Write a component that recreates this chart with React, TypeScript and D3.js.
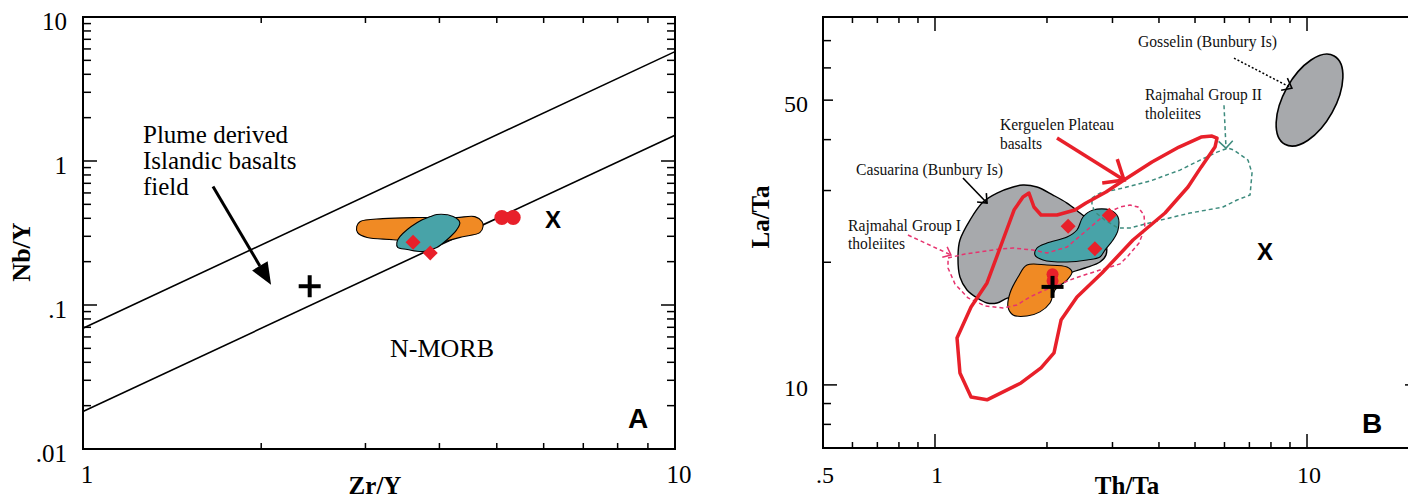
import React from "react";
import * as d3 from "d3";

// ---------------- Panel A : Nb/Y vs Zr/Y ----------------
const zrYDomain: [number, number] = [1, 10];
const nbYDomain: [number, number] = [0.01, 10];
const zrYTickValues = [1, 10];
const zrYTickLabels = ["1", "10"];
const nbYTickValues = [0.01, 0.1, 1, 10];
const nbYTickLabels = [".01", ".1", "1", "10"];
const plumeUpperLine = [[1, 0.069], [10, 5.75]];
const plumeLowerLine = [[1, 0.0182], [10, 1.51]];
const orangeFieldA = [
  [2.9, 0.351], [2.94, 0.38], [3.21, 0.398], [3.67, 0.405], [3.96, 0.405], [4.28, 0.405],
  [4.59, 0.411], [4.72, 0.38], [4.74, 0.351], [4.68, 0.318], [4.38, 0.298], [4.06, 0.272],
  [3.9, 0.251], [3.67, 0.272], [3.34, 0.284], [3.02, 0.294], [2.91, 0.318],
];
const tealFieldA = [
  [3.39, 0.272], [3.43, 0.298], [3.67, 0.374], [3.86, 0.411], [3.96, 0.425], [4.22, 0.411],
  [4.33, 0.374], [4.28, 0.334], [4.12, 0.284], [3.96, 0.251], [3.75, 0.235], [3.53, 0.243],
  [3.4, 0.251],
];
const redCirclesA = [[5.1, 0.405], [5.33, 0.405]];
const redDiamondsA = [[3.61, 0.273], [3.86, 0.23]];
const plusA = [2.415, 0.135];
const crossA = [6.22, 0.392];
const plumeArrowA = [[1.658, 0.666], [2.078, 0.138]];
const plumeLabelLines = ["Plume derived", "Islandic basalts", "field"];
const nmorbLabel = "N-MORB";

// ---------------- Panel B : La/Ta vs Th/Ta ----------------
const thTaDomain: [number, number] = [0.5, 20];
const laTaDomain: [number, number] = [7, 80];
const thTaTickValues = [0.5, 1, 10];
const thTaTickLabels = [".5", "1", "10"];
const laTaTickValues = [10, 50];
const laTaTickLabels = ["10", "50"];

// Gosselin field: an ellipse given by the two ends of its long axis (Th/Ta, La/Ta)
const gosselinMajorAxis = [[8.72, 38.96], [11.83, 64.2]];
const gosselinMinorRatio = 0.51;

const casuarinaField = [
  [1.724, 30.95], [1.88, 30.6], [2.076, 29.24], [2.264, 27.95], [2.454, 26.42], [2.692, 24.69],
  [2.864, 22.68], [2.882, 20.84], [2.776, 20.03], [2.531, 19.36], [2.306, 18.82], [2.038, 17.58],
  [1.8, 16.63], [1.571, 16.35], [1.468, 15.89], [1.38, 15.89], [1.297, 16.35], [1.219, 17.1],
  [1.167, 18.4], [1.153, 20.61], [1.167, 22.68], [1.242, 25.39], [1.346, 28.11], [1.468, 29.57],
  [1.621, 30.6],
];
const tealFieldB = [
  [2.659, 26.87], [2.954, 26.87], [3.104, 25.83], [3.104, 24.0], [3.01, 22.68], [2.864, 21.43],
  [2.776, 20.61], [2.563, 20.26], [2.264, 20.03], [1.951, 20.26], [1.857, 20.84], [1.88, 21.68],
  [2.0, 22.3], [2.264, 23.07], [2.408, 24.0], [2.499, 25.83],
];
const orangeFieldB = [
  [1.767, 19.69], [2.0, 19.69], [2.264, 19.47], [2.335, 18.93], [2.264, 18.09], [2.102, 17.1],
  [2.038, 15.89], [1.915, 15.11], [1.767, 14.76], [1.621, 14.85], [1.571, 15.54], [1.591, 16.81],
  [1.672, 18.4],
];
const kerguelenField = [
  [1.146, 13.04], [1.167, 10.7], [1.25, 9.34], [1.38, 9.19], [1.703, 10.11], [1.928, 11.01],
  [2.089, 11.98], [2.182, 14.43], [2.408, 16.44], [2.811, 18.82], [3.406, 22.68], [4.153, 26.42],
  [4.787, 30.6], [5.191, 34.24], [5.658, 38.35], [5.729, 40.35], [5.554, 40.81], [5.191, 40.58],
  [4.528, 38.35], [3.831, 35.24], [3.222, 31.83], [2.882, 29.74], [2.546, 27.95], [2.378, 26.87],
  [2.128, 26.12], [1.928, 26.12], [1.845, 27.33], [1.789, 29.57], [1.724, 28.92], [1.631, 26.87],
  [1.523, 22.68], [1.38, 17.79], [1.25, 15.54],
];
const rajmahalGroupII = [
  [2.642, 28.75], [2.776, 29.57], [3.202, 30.42], [3.784, 31.65], [4.556, 33.67], [5.159, 35.63],
  [5.729, 37.27], [6.132, 38.13], [6.364, 37.7], [6.941, 35.63], [7.115, 33.11], [7.028, 29.24],
  [6.483, 28.43], [5.945, 27.33], [4.847, 26.42], [3.951, 25.25], [3.344, 24.27], [3.104, 24.27],
  [2.864, 25.39], [2.692, 26.57], [2.642, 27.64],
];
const rajmahalGroupI = [
  [1.084, 20.49], [1.204, 20.96], [1.321, 21.2], [1.495, 21.56], [1.621, 21.68], [1.834, 21.43],
  [2.0, 21.08], [2.264, 21.8], [2.563, 24.0], [2.9, 26.42], [3.143, 27.33], [3.344, 27.64],
  [3.513, 27.33], [3.646, 26.12], [3.668, 24.27], [3.535, 22.3], [3.302, 20.73], [3.143, 19.81],
  [2.776, 19.14], [2.378, 18.29], [2.168, 17.68], [1.976, 17.1], [1.8, 16.44], [1.661, 15.71],
  [1.523, 15.45], [1.363, 15.62], [1.227, 16.35], [1.132, 17.68], [1.084, 19.36],
];
const redDiamondsB = [[2.28, 24.5], [2.94, 26.1], [2.69, 21.6]];
const redCirclesB = [[2.07, 18.7], [2.07, 18.0]];
const plusB = [2.07, 17.4];
const crossB = [7.71, 21.3];

const gosselinArrow = [[6.364, 63.4], [9.11, 53.5]];
const groupIIArrow = [[5.982, 48.6], [6.057, 38.13]];
const kerguelenArrow = [[2.128, 40.35], [3.222, 31.83]];
const casuarinaArrow = [[1.189, 32.19], [1.38, 27.95]];
const groupIArrow = [[0.846, 23.33], [1.104, 20.84]];

const labelGosselin = "Gosselin (Bunbury Is)";
const labelGroupII = ["Rajmahal Group II", "tholeiites"];
const labelKerguelen = ["Kerguelen Plateau", "basalts"];
const labelCasuarina = "Casuarina (Bunbury Is)";
const labelGroupI = ["Rajmahal Group I", "tholeiites"];

// ---------------- layout & style ----------------
const W = 1408;
const H = 498;
const PA = { left: 83, right: 675, top: 17, bottom: 449 };
const PB = { left: 823, right: 1419, top: 17, bottom: 448 };
const SERIF = "'Liberation Serif', 'Times New Roman', serif";
const SANS = "'Liberation Sans', Arial, sans-serif";
const C = {
  orange: "#f08a24",
  teal: "#48a3a8",
  gray: "#a7a9ac",
  red: "#e8202a",
  pink: "#e6336e",
  green: "#3d8b7d",
};

const isDecade = (v: number) => Math.abs(Math.log10(v) - Math.round(Math.log10(v))) < 1e-6;

function vArrowHead(p1: number[], p2: number[], len: number, angDeg: number) {
  const a = Math.atan2(p2[1] - p1[1], p2[0] - p1[0]);
  const t = (angDeg * Math.PI) / 180;
  const l = [p2[0] - len * Math.cos(a - t), p2[1] - len * Math.sin(a - t)];
  const r = [p2[0] - len * Math.cos(a + t), p2[1] - len * Math.sin(a + t)];
  return `M${l[0]},${l[1]}L${p2[0]},${p2[1]}L${r[0]},${r[1]}`;
}

function Frame({ box, xs, ys, xMajorLen, yMajor, yMid }: any) {
  const xt = xs.ticks().filter((v: number) => v > xs.domain()[0] * 1.0001 && v < xs.domain()[1] * 0.9999);
  const yt = ys.ticks().filter((v: number) => v > ys.domain()[0] * 1.0001 && v < ys.domain()[1] * 0.9999);
  const minor = 8;
  return (
    <g stroke="#000" strokeWidth={1.5}>
      {xt.map((v: number, i: number) => {
        const L = isDecade(v) ? xMajorLen : minor - 2;
        const x = xs(v);
        return (
          <g key={"x" + i}>
            <line x1={x} x2={x} y1={box.bottom} y2={box.bottom - L} />
            <line x1={x} x2={x} y1={box.top} y2={box.top + L} />
          </g>
        );
      })}
      {yt.map((v: number, i: number) => {
        const L = isDecade(v) ? yMajor : yMid && yMid.includes(v) ? 10 : minor;
        const y = ys(v);
        return (
          <g key={"y" + i}>
            <line x1={box.left} x2={box.left + L} y1={y} y2={y} />
            <line x1={box.right} x2={box.right - L} y1={y} y2={y} />
          </g>
        );
      })}
      <rect
        x={box.left}
        y={box.top}
        width={box.right - box.left}
        height={box.bottom - box.top}
        fill="none"
        strokeWidth={2}
      />
    </g>
  );
}

function diamondPath(cx: number, cy: number, r: number) {
  return `M${cx},${cy - r}L${cx + r},${cy}L${cx},${cy + r}L${cx - r},${cy}Z`;
}

function Plus({ x, y, s }: { x: number; y: number; s: number }) {
  return (
    <g stroke="#000" strokeWidth={4}>
      <line x1={x - s} x2={x + s} y1={y} y2={y} />
      <line x1={x} x2={x} y1={y - s} y2={y + s} />
    </g>
  );
}

export default function App() {
  const xA = d3.scaleLog().domain(zrYDomain).range([PA.left, PA.right]);
  const yA = d3.scaleLog().domain(nbYDomain).range([PA.bottom, PA.top]);
  const xB = d3.scaleLog().domain(thTaDomain).range([PB.left, PB.right]);
  const yB = d3.scaleLog().domain(laTaDomain).range([PB.bottom, PB.top]);

  const smoothA = d3
    .line<number[]>()
    .x((d) => xA(d[0]))
    .y((d) => yA(d[1]))
    .curve(d3.curveCatmullRomClosed.alpha(0.5));
  const lineA = d3
    .line<number[]>()
    .x((d) => xA(d[0]))
    .y((d) => yA(d[1]));
  const smoothB = d3
    .line<number[]>()
    .x((d) => xB(d[0]))
    .y((d) => yB(d[1]))
    .curve(d3.curveCatmullRomClosed.alpha(0.5));
  const polyB = d3
    .line<number[]>()
    .x((d) => xB(d[0]))
    .y((d) => yB(d[1]))
    .curve(d3.curveLinearClosed);
  const lineB = d3
    .line<number[]>()
    .x((d) => xB(d[0]))
    .y((d) => yB(d[1]));

  const pxA = (d: number[]) => [xA(d[0]), yA(d[1])];
  const pxB = (d: number[]) => [xB(d[0]), yB(d[1])];

  // Panel A arrow (filled head)
  const a0 = pxA(plumeArrowA[0]);
  const a1 = pxA(plumeArrowA[1]);
  const ang = Math.atan2(a1[1] - a0[1], a1[0] - a0[0]);
  const headLen = 22;
  const headW = 9;
  const base = [a1[0] - headLen * Math.cos(ang), a1[1] - headLen * Math.sin(ang)];
  const headPts = [
    a1,
    [base[0] + headW * Math.sin(ang), base[1] - headW * Math.cos(ang)],
    [base[0] - headW * Math.sin(ang), base[1] + headW * Math.cos(ang)],
  ];

  // Gosselin ellipse
  const g0 = pxB(gosselinMajorAxis[0]);
  const g1 = pxB(gosselinMajorAxis[1]);
  const gcx = (g0[0] + g1[0]) / 2;
  const gcy = (g0[1] + g1[1]) / 2;
  const grx = Math.hypot(g1[0] - g0[0], g1[1] - g0[1]) / 2;
  const gry = grx * gosselinMinorRatio;
  const grot = (Math.atan2(g1[1] - g0[1], g1[0] - g0[0]) * 180) / Math.PI;

  const arrowB = (arr: number[][], len: number, angDeg: number) => {
    const p1 = pxB(arr[0]);
    const p2 = pxB(arr[1]);
    return { line: lineB(arr) as string, head: vArrowHead(p1, p2, len, angDeg) };
  };
  const gArr = arrowB(gosselinArrow, 11, 38);
  const g2Arr = arrowB(groupIIArrow, 10, 45);
  const kArr = arrowB(kerguelenArrow, 22, 40);
  const cArr = arrowB(casuarinaArrow, 10, 40);
  const g1Arr = arrowB(groupIArrow, 9, 40);

  const labStyle = { fontFamily: SERIF, fontSize: 17, fill: "#111" } as const;

  return (
    <svg
      width={W}
      height={H}
      style={{ position: "absolute", left: 0, top: 0, background: "#fff", display: "block" }}
    >
      <rect x={0} y={0} width={W} height={H} fill="#fff" />

      {/* ================= Panel A ================= */}
      <g>
        <path d={lineA(plumeUpperLine) as string} stroke="#000" strokeWidth={1.6} fill="none" />
        <path d={lineA(plumeLowerLine) as string} stroke="#000" strokeWidth={1.6} fill="none" />
        <path d={smoothA(orangeFieldA) as string} fill={C.orange} stroke="#000" strokeWidth={1.1} />
        <path d={smoothA(tealFieldA) as string} fill={C.teal} stroke="#000" strokeWidth={1.1} />
        {redCirclesA.map((d, i) => (
          <circle key={i} cx={xA(d[0])} cy={yA(d[1])} r={7.5} fill={C.red} />
        ))}
        {redDiamondsA.map((d, i) => (
          <path key={i} d={diamondPath(xA(d[0]), yA(d[1]), 7.5)} fill={C.red} />
        ))}
        <Plus x={xA(plusA[0])} y={yA(plusA[1])} s={11} />
        <text
          x={xA(crossA[0])}
          y={yA(crossA[1])}
          dy="0.36em"
          textAnchor="middle"
          fontFamily={SANS}
          fontWeight="bold"
          fontSize={24}
        >
          X
        </text>
        {/* arrow */}
        <line x1={a0[0]} y1={a0[1]} x2={base[0]} y2={base[1]} stroke="#000" strokeWidth={3} />
        <polygon points={headPts.map((p) => p.join(",")).join(" ")} fill="#000" />
        <g fontFamily={SERIF} fontSize={25}>
          {plumeLabelLines.map((t, i) => (
            <text key={i} x={143} y={143 + i * 26}>
              {t}
            </text>
          ))}
          <text x={390} y={357} fontSize={26}>
            {nmorbLabel}
          </text>
        </g>
        <text x={628} y={428} fontFamily={SANS} fontWeight="bold" fontSize={28}>
          A
        </text>

        <Frame box={PA} xs={xA} ys={yA} xMajorLen={14} yMajor={14} />

        {/* tick labels */}
        <g fontFamily={SERIF} fontSize={25}>
          {nbYTickValues.map((v, i) => (
            <text key={i} x={67} y={yA(v) + 4} dy="0.35em" textAnchor="end">
              {nbYTickLabels[i]}
            </text>
          ))}
          {zrYTickValues.map((v, i) => (
            <text key={i} x={xA(v) + 4} y={483} textAnchor="middle">
              {zrYTickLabels[i]}
            </text>
          ))}
        </g>
        <text x={375} y={494} textAnchor="middle" fontFamily={SERIF} fontWeight="bold" fontSize={25}>
          Zr/Y
        </text>
        <text
          transform="translate(30,252) rotate(-90)"
          textAnchor="middle"
          fontFamily={SERIF}
          fontWeight="bold"
          fontSize={26}
        >
          Nb/Y
        </text>
      </g>

      {/* ================= Panel B ================= */}
      <g>
        <ellipse
          cx={gcx}
          cy={gcy}
          rx={grx}
          ry={gry}
          transform={`rotate(${grot} ${gcx} ${gcy})`}
          fill={C.gray}
          stroke="#000"
          strokeWidth={1.6}
        />
        <path d={smoothB(casuarinaField) as string} fill={C.gray} stroke="#000" strokeWidth={1.4} />
        <path d={smoothB(tealFieldB) as string} fill={C.teal} stroke="#000" strokeWidth={1.1} />
        <path d={smoothB(orangeFieldB) as string} fill={C.orange} stroke="#000" strokeWidth={1.1} />
        {redCirclesB.map((d, i) => (
          <circle key={i} cx={xB(d[0])} cy={yB(d[1])} r={6} fill={C.red} />
        ))}
        <path
          d={polyB(rajmahalGroupII) as string}
          fill="none"
          stroke={C.green}
          strokeWidth={1.5}
          strokeDasharray="4,3"
        />
        <path
          d={polyB(rajmahalGroupI) as string}
          fill="none"
          stroke={C.pink}
          strokeWidth={1.5}
          strokeDasharray="4,3"
        />
        <path
          d={polyB(kerguelenField) as string}
          fill="none"
          stroke={C.red}
          strokeWidth={3.5}
          strokeLinejoin="round"
        />
        {redDiamondsB.map((d, i) => (
          <path key={i} d={diamondPath(xB(d[0]), yB(d[1]), 7.5)} fill={C.red} />
        ))}
        <Plus x={xB(plusB[0])} y={yB(plusB[1])} s={11} />
        <text
          x={xB(crossB[0])}
          y={yB(crossB[1])}
          dy="0.36em"
          textAnchor="middle"
          fontFamily={SANS}
          fontWeight="bold"
          fontSize={24}
        >
          X
        </text>

        {/* arrows */}
        <path d={gArr.line} stroke="#000" strokeWidth={1.5} strokeDasharray="2,2" fill="none" />
        <path d={gArr.head} stroke="#000" strokeWidth={1.5} fill="none" />
        <path d={g2Arr.line} stroke={C.green} strokeWidth={1.5} strokeDasharray="4,3" fill="none" />
        <path d={g2Arr.head} stroke={C.green} strokeWidth={1.5} fill="none" />
        <path d={kArr.line} stroke={C.red} strokeWidth={3.5} fill="none" />
        <path d={kArr.head} stroke={C.red} strokeWidth={3.5} fill="none" strokeLinejoin="miter" />
        <path d={cArr.line} stroke="#000" strokeWidth={1.6} fill="none" />
        <path d={cArr.head} stroke="#000" strokeWidth={1.6} fill="none" />
        <path d={g1Arr.line} stroke={C.pink} strokeWidth={1.5} strokeDasharray="4,3" fill="none" />
        <path d={g1Arr.head} stroke={C.pink} strokeWidth={1.5} fill="none" />

        {/* labels */}
        <text {...labStyle} x={1138} y={47} textLength={139} lengthAdjust="spacingAndGlyphs">
          {labelGosselin}
        </text>
        <text {...labStyle} x={1145} y={100} textLength={117} lengthAdjust="spacingAndGlyphs">
          {labelGroupII[0]}
        </text>
        <text {...labStyle} x={1145} y={119} textLength={56} lengthAdjust="spacingAndGlyphs">
          {labelGroupII[1]}
        </text>
        <text {...labStyle} x={1000} y={130} textLength={114} lengthAdjust="spacingAndGlyphs">
          {labelKerguelen[0]}
        </text>
        <text {...labStyle} x={1000} y={149} textLength={42} lengthAdjust="spacingAndGlyphs">
          {labelKerguelen[1]}
        </text>
        <text {...labStyle} x={856} y={175} textLength={147} lengthAdjust="spacingAndGlyphs">
          {labelCasuarina}
        </text>
        <text {...labStyle} x={848} y={231} textLength={113} lengthAdjust="spacingAndGlyphs">
          {labelGroupI[0]}
        </text>
        <text {...labStyle} x={848} y={249} textLength={57} lengthAdjust="spacingAndGlyphs">
          {labelGroupI[1]}
        </text>
        <text x={1362} y={433} fontFamily={SANS} fontWeight="bold" fontSize={28}>
          B
        </text>

        <Frame box={PB} xs={xB} ys={yB} xMajorLen={14} yMajor={14} yMid={[50]} />

        <g fontFamily={SERIF} fontSize={24}>
          {laTaTickValues.map((v, i) => (
            <text key={i} x={808} y={yB(v) + 3} dy="0.35em" textAnchor="end">
              {laTaTickLabels[i]}
            </text>
          ))}
          {thTaTickValues.map((v, i) => (
            <text key={i} x={xB(v) + 2} y={483} textAnchor="middle">
              {thTaTickLabels[i]}
            </text>
          ))}
        </g>
        <text x={1127} y={494} textAnchor="middle" fontFamily={SERIF} fontWeight="bold" fontSize={25}>
          Th/Ta
        </text>
        <text
          transform="translate(769,217) rotate(-90)"
          textAnchor="middle"
          fontFamily={SERIF}
          fontWeight="bold"
          fontSize={25}
        >
          La/Ta
        </text>
      </g>
    </svg>
  );
}
